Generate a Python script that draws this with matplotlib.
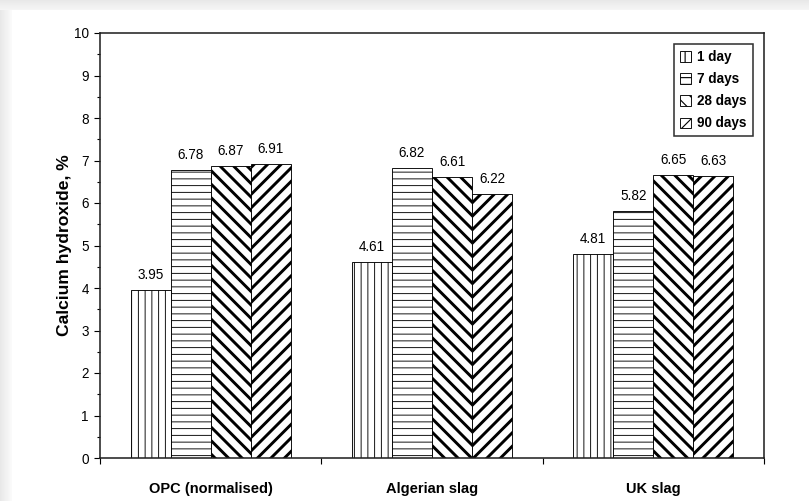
import matplotlib
matplotlib.use("Agg")
import matplotlib.pyplot as plt
import numpy as np
from matplotlib.ticker import MultipleLocator, FixedLocator, NullFormatter

# Calcium hydroxide content by material and curing age
materials = ["OPC (normalised)", "Algerian slag", "UK slag"]
ages = ["1 day", "7 days", "28 days", "90 days"]
day1 = [3.95, 4.61, 4.81]
day7 = [6.78, 6.82, 5.82]
day28 = [6.87, 6.61, 6.65]
day90 = [6.91, 6.22, 6.63]

DPI = 81
W, H = 809, 501
plt.rcParams["font.family"] = ["Liberation Sans", "DejaVu Sans"]

fig = plt.figure(figsize=(W / DPI, H / DPI), dpi=DPI)
fig.patch.set_facecolor("white")

# soft grey frame along the top and left edges
top_band = fig.add_axes([0, 1 - 10 / H, 1, 10 / H])
top_band.imshow(np.linspace(0.91, 0.96, 10)[:, None] * np.ones((10, 2)),
                cmap="gray", vmin=0, vmax=1, aspect="auto")
top_band.axis("off")
left_band = fig.add_axes([0, 0, 12 / W, 1 - 10 / H])
left_band.imshow(np.linspace(0.91, 0.98, 12)[None, :] * np.ones((2, 12)),
                 cmap="gray", vmin=0, vmax=1, aspect="auto")
left_band.axis("off")

ax = fig.add_axes([100 / W, (H - 458) / H, 664 / W, 425 / H])

series = [day1, day7, day28, day90]
hatches = ["||", "--", "\\\\", "//"]
hatch_lw = [0.8, 0.8, 2.6, 2.6]
x = np.arange(len(materials))
width = 0.181
offsets = (np.arange(4) - 1.5) * width

for vals, lab, h, hlw, off in zip(series, ages, hatches, hatch_lw, offsets):
    bars = ax.bar(x + off, vals, width, facecolor="white", edgecolor="black",
                  linewidth=0.8, hatch=h, label=lab, zorder=2)
    for b in bars:
        if hasattr(b, "set_hatch_linewidth"):
            b.set_hatch_linewidth(hlw)
    for xi, v in zip(x + off, vals):
        ax.annotate(f"{v:.2f}", (xi, v), xytext=(0, 7), textcoords="offset points",
                    ha="center", va="bottom", fontsize=12)

ax.set_xlim(-0.5, 2.5)
ax.set_ylim(0, 10)

ax.yaxis.set_major_locator(MultipleLocator(1))
ax.yaxis.set_minor_locator(MultipleLocator(0.5))
ax.tick_params(axis="y", which="major", direction="out", length=5, width=1.0,
               labelsize=12, pad=5)
ax.tick_params(axis="y", which="minor", direction="out", length=3, width=1.0)

# group boundaries carry the ticks, names sit at group centres
ax.xaxis.set_major_locator(FixedLocator([-0.5, 0.5, 1.5, 2.5]))
ax.xaxis.set_major_formatter(NullFormatter())
ax.xaxis.set_minor_locator(FixedLocator(x))
ax.set_xticklabels(materials, minor=True, fontweight="bold", fontsize=13)
ax.tick_params(axis="x", which="major", direction="out", length=5, width=1.0)
ax.tick_params(axis="x", which="minor", length=0, pad=21)

for s in ax.spines.values():
    s.set_linewidth(1.4)
    s.set_color("#222222")

ax.set_ylabel("Calcium hydroxide, %", fontweight="bold", fontsize=15.5, labelpad=2)

leg = ax.legend(loc="upper right", bbox_to_anchor=(1 - 11 / 664, 1 - 11 / 425),
                borderaxespad=0, fancybox=False, framealpha=1, edgecolor="#333333",
                prop={"weight": "bold", "size": 12}, handlelength=0.8,
                handleheight=0.8, handletextpad=0.5, labelspacing=0.6,
                borderpad=0.45)
leg.get_frame().set_linewidth(1.4)

fig.savefig("out.png", dpi=DPI)
